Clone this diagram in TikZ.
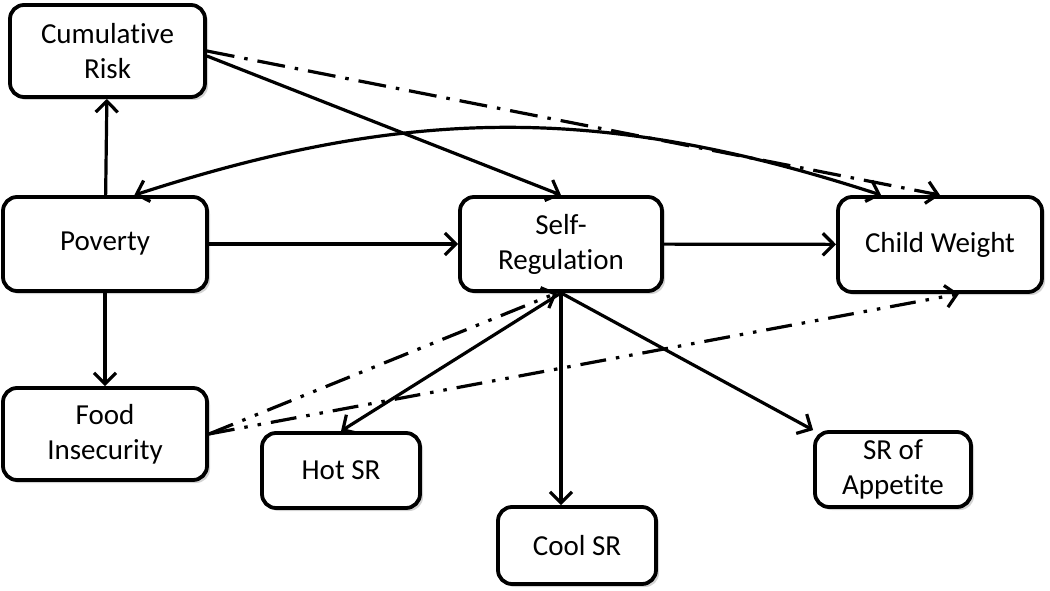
\documentclass[tikz,border=0pt]{standalone}
\usepackage{fontspec}
\setmainfont{Carlito}[Ligatures=NoCommon]
\usetikzlibrary{arrows.meta,shadows,calc}

\tikzset{
  barb/.tip={Straight Barb[length=11pt,width=22pt,line width=3.2pt]},
  box/.style={draw, line width=3.8pt, rounded corners=14pt, fill=white, align=center,
    font=\fontsize{29}{35}\selectfont,
    drop shadow={shadow xshift=3pt, shadow yshift=-3pt, opacity=0.35}},
  link/.style={line width=3.2pt, -barb},
  dashdot/.style={link, dash pattern=on 28pt off 10pt on 3.5pt off 10pt},
  dashdotdot/.style={link, dash pattern=on 26pt off 10pt on 3.5pt off 10pt on 3.5pt off 10pt}
}

\begin{document}
\begin{tikzpicture}[x=1pt,y=-1pt]
\useasboundingbox (0,0) rectangle (1050,591);

\node [box, minimum width=195pt, minimum height=92pt] (cumrisk) at (107.5,51) {Cumulative\\Risk};
\node [box, minimum width=204pt, minimum height=94pt] (poverty) at (105,244) {Poverty};
\node [box, minimum width=202pt, minimum height=94pt] (selfreg) at (561,244) {Self-\\Regulation};
\node [box, minimum width=204pt, minimum height=95pt] (weight) at (940,244.5) {Child Weight};
\node [box, minimum width=204pt, minimum height=92pt] (food) at (105,434) {Food\\Insecurity};
\node [box, minimum width=158pt, minimum height=75pt] (hot) at (341,470.5) {Hot SR};
\node [box, minimum width=158pt, minimum height=77pt] (cool) at (577,545.5) {Cool SR};
\node [box, minimum width=156pt, minimum height=75pt] (appetite) at (893,469.5) {SR of\\Appetite};

% paths from poverty
\draw [link] (poverty) -- (cumrisk);
\draw [link] (poverty) -- (food);
\draw [link] (poverty) -- (selfreg);
\draw [link] (selfreg) -- (weight);

% risk
\draw [link] ($(cumrisk.east)+(0,5)$) -- (selfreg.north);
\draw [dashdot] (cumrisk.east) -- (weight.north);
\draw [link, barb-barb] (poverty.59) to [bend left=18] (weight.140);

% self-regulation facets
\draw [link] (selfreg.south) -- (hot.north);
\draw [link] (selfreg.south) -- (selfreg.south |- cool.north);
\draw [link] (selfreg.south) -- (appetite.north west);

% food insecurity
\draw [dashdotdot] (food.east) -- ($(selfreg.south)+(-4,0)$);
\draw [dashdotdot] (food.east) -- (weight.-69);
\end{tikzpicture}
\end{document}
